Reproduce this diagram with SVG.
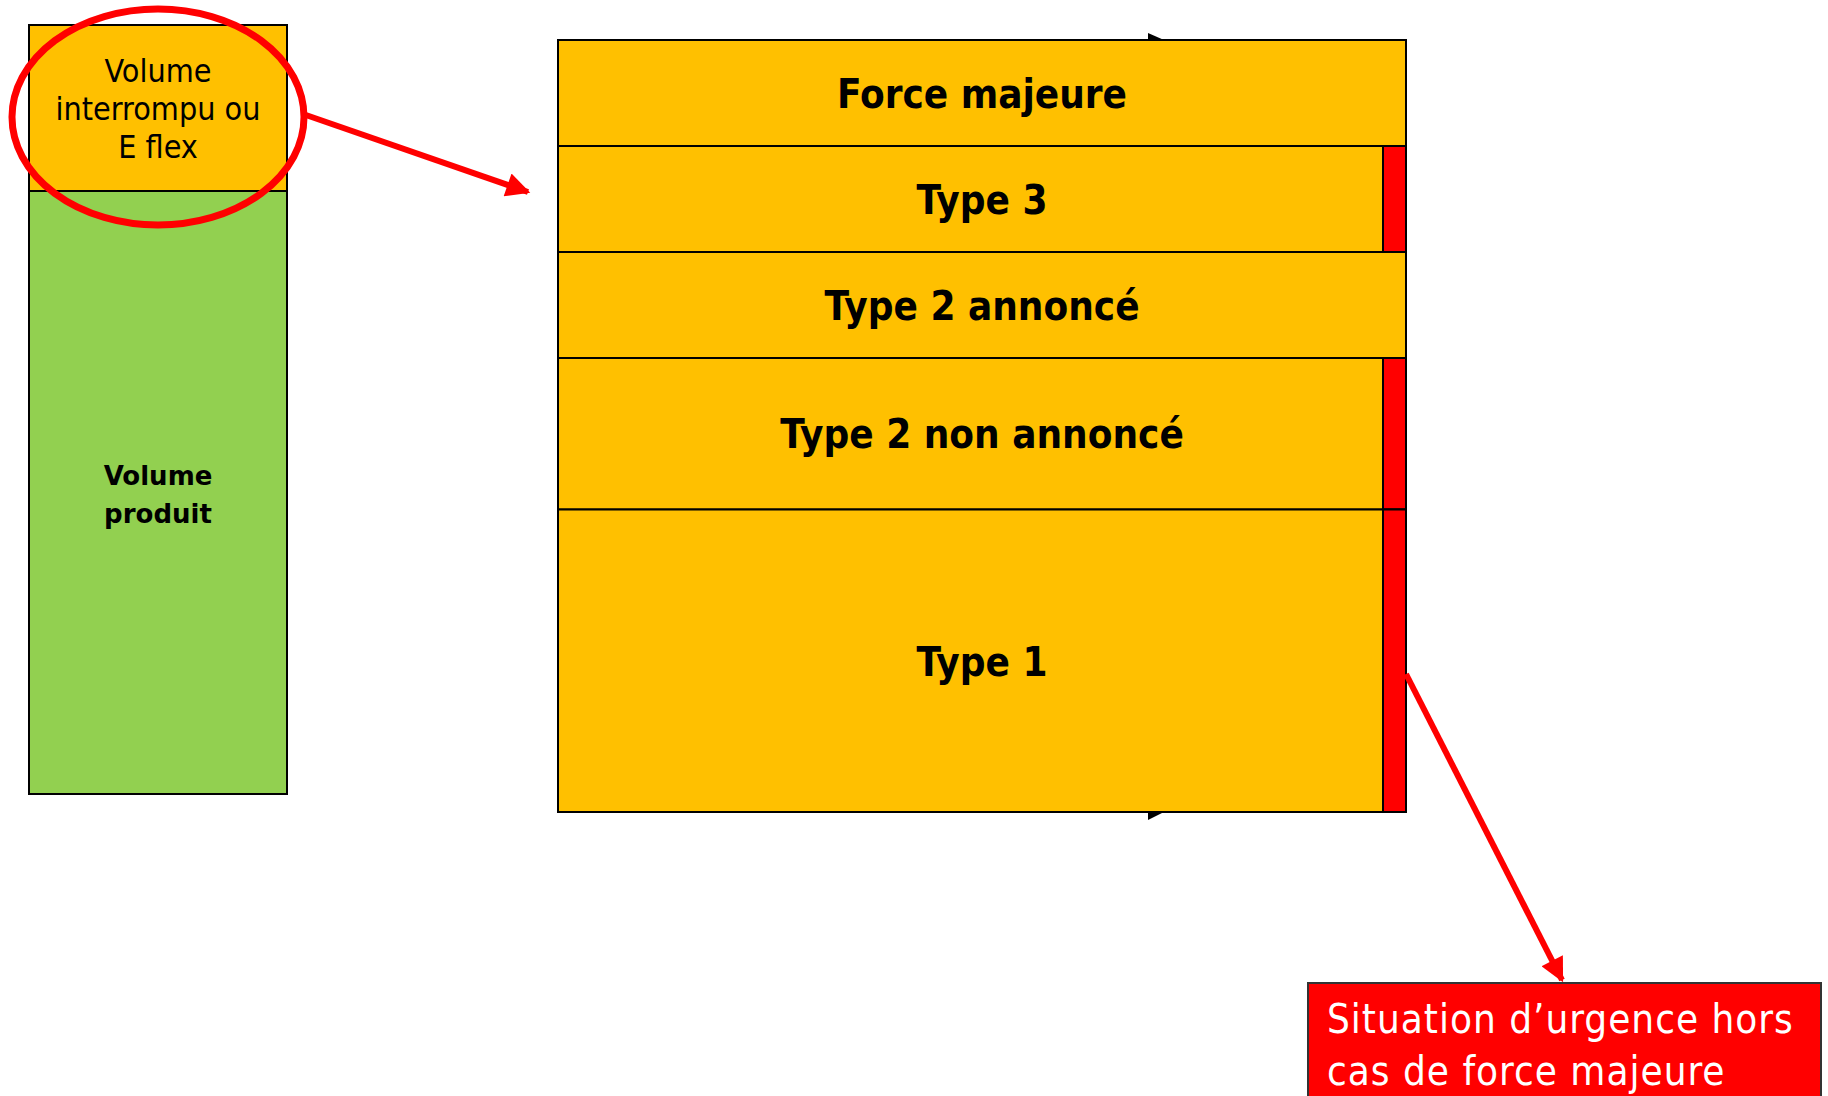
<svg xmlns="http://www.w3.org/2000/svg" width="1828" height="1096" viewBox="0 0 1828 1096">
  <style>
    .box { stroke: #000; stroke-width: 2; }
    .orange { fill: #FFC000; }
    .green { fill: #92D050; }
    .red { fill: #FF0000; }
    .lbl { font-family: "DejaVu Sans Condensed", "DejaVu Sans", sans-serif; text-anchor: middle; fill: #000; }
    .big { font-size: 40px; font-weight: bold; }
    .callout { stroke: #FF0000; stroke-width: 6; fill: none; }
    .white { font-family: "DejaVu Sans Condensed", "DejaVu Sans", sans-serif; font-size: 40px; letter-spacing: 1px; fill: #fff; }
  </style>
  <defs>
    <marker id="redHead" viewBox="0 0 10 10" refX="9" refY="5" markerWidth="4.4" markerHeight="4" orient="auto" markerUnits="strokeWidth">
      <path d="M0,0 L10,5 L0,10 Z" fill="#FF0000"/>
    </marker>
  </defs>

  <rect width="1828" height="1096" fill="#fff"/>

  <!-- left column: interrupted volume on top of produced volume -->
  <g id="volume-interrompu">
    <rect class="box orange" x="29" y="25" width="258" height="166"/>
    <text class="lbl" font-size="32" x="158" y="82">Volume</text>
    <text class="lbl" font-size="32" x="158" y="120">interrompu ou</text>
    <text class="lbl" font-size="32" x="158" y="158">E flex</text>
  </g>
  <g id="volume-produit">
    <rect class="box green" x="29" y="191" width="258" height="603"/>
    <text font-family="DejaVu Sans, sans-serif" text-anchor="middle" font-size="26" font-weight="bold" x="158" y="485">Volume</text>
    <text font-family="DejaVu Sans, sans-serif" text-anchor="middle" font-size="26" font-weight="bold" x="158" y="523">produit</text>
  </g>

  <!-- hidden axis arrowheads peeking out behind the stack -->
  <g id="axis-heads" fill="#000">
    <polygon points="1148,33 1164,40 1148,40"/>
    <polygon points="1148,812 1164,812 1148,820"/>
  </g>

  <!-- breakdown stack -->
  <g id="force-majeure">
    <rect class="box orange" x="558" y="40" width="848" height="106"/>
    <text class="lbl big" x="982" y="108">Force majeure</text>
  </g>
  <g id="type-3">
    <rect class="box orange" x="558" y="146" width="848" height="106"/>
    <rect class="box red" x="1383" y="146" width="23" height="106"/>
    <text class="lbl big" x="982" y="214">Type 3</text>
  </g>
  <g id="type-2-annonce">
    <rect class="box orange" x="558" y="252" width="848" height="106"/>
    <text class="lbl big" x="982" y="320">Type 2 annoncé</text>
  </g>
  <g id="type-2-non-annonce">
    <rect class="box orange" x="558" y="358" width="848" height="151.5"/>
    <rect class="box red" x="1383" y="358" width="23" height="151.5"/>
    <text class="lbl big" x="982" y="448">Type 2 non annoncé</text>
  </g>
  <g id="type-1">
    <rect class="box orange" x="558" y="509.5" width="848" height="302.5"/>
    <rect class="box red" x="1383" y="509.5" width="23" height="302.5"/>
    <text class="lbl big" x="982" y="676">Type 1</text>
  </g>

  <!-- emergency situation callout -->
  <g id="urgence">
    <rect x="1308" y="983" width="513" height="120" fill="#FF0000" stroke="#333" stroke-width="2"/>
    <text class="white" x="1327" y="1033">Situation d’urgence hors</text>
    <text class="white" x="1327" y="1085">cas de force majeure</text>
  </g>

  <!-- connectors -->
  <g id="connectors">
    <ellipse cx="158" cy="117" rx="146" ry="108" fill="none" stroke="#FF0000" stroke-width="7"/>
    <line class="callout" x1="303" y1="114" x2="528" y2="192" marker-end="url(#redHead)"/>
    <line class="callout" x1="1406" y1="674" x2="1562" y2="980" marker-end="url(#redHead)"/>
  </g>
</svg>
